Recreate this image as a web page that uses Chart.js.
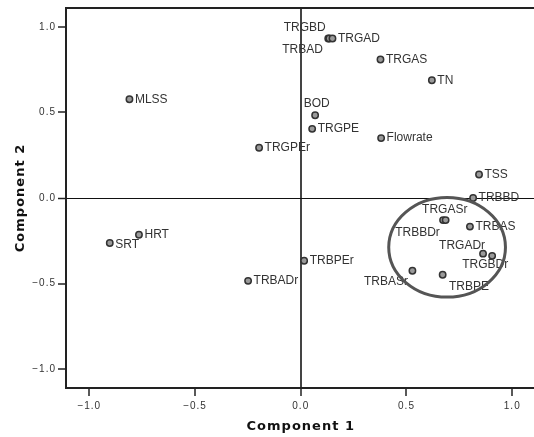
<!DOCTYPE html>
<html lang="en">
  <head>
    <meta charset="UTF-8" />
    <title>Component Plot</title>
    <script src="https://cdn.jsdelivr.net/npm/chart.js"></script>
    <style>
      body { margin: 0; background: #fff; overflow: hidden; }
      #wrap { width: 534px; height: 437px; overflow: hidden; }
    </style>
  </head>
  <body>
    <div id="wrap">
      <canvas id="myChart" width="560" height="437"></canvas>
    </div>
    <script>
      // variable names and loadings
      const names = ["MLSS", "TRGBD", "TRBAD", "TRGAD", "TRGAS", "TN", "BOD", "TRGPE", "TRGPEr", "Flowrate",
        "TSS", "TRBBD", "TRGASr", "TRBBDr", "TRBAS", "TRGADr", "TRGBDr", "TRBASr", "TRBPE", "TRBPEr",
        "TRBADr", "HRT", "SRT"];
      const comp1 = [-0.81, 0.13, 0.135, 0.15, 0.377, 0.62, 0.068, 0.054, -0.197, 0.38,
        0.843, 0.815, 0.673, 0.685, 0.8, 0.862, 0.905, 0.528, 0.671, 0.016,
        -0.249, -0.765, -0.903];
      const comp2 = [0.577, 0.932, 0.932, 0.932, 0.809, 0.688, 0.483, 0.404, 0.294, 0.35,
        0.137, 0.0, -0.129, -0.129, -0.167, -0.325, -0.338, -0.425, -0.448, -0.367,
        -0.484, -0.215, -0.263];
      const tickValues = [-1.0, -0.5, 0.0, 0.5, 1.0];

      // where a label sits relative to its point (default: to the right)
      const labelPlace = {
        TRGBD: [-2.5, -11, "right"],
        TRBAD: [-6.5, 11, "right"],
        BOD: [-11.5, -11.5, "left"],
        TRGASr: [1.7, -10.6, "center"],
        TRBBDr: [-5.8, 12.4, "right"],
        TRGADr: [-44, -8.3, "left"],
        TRGBDr: [-30, 9.3, "left"],
        TRBASr: [-4.4, 11, "right"],
        TRBPE: [6.3, 12.3, "left"],
        SRT: [5.5, 1.5, "left"],
      };

      // hand-drawn ring around the right-hand cluster (data units)
      const ring = { cx: 0.692, cy: -0.288, rx: 0.276, ry: 0.291 };

      const points = names.map((n, i) => ({ x: comp1[i], y: comp2[i] }));

      const spacing = {
        id: "spacing",
        beforeDraw(chart) {
          chart.ctx.letterSpacing = "1px";
        },
      };

      const extras = {
        id: "extras",
        beforeDatasetsDraw(chart) {
          const { ctx, chartArea } = chart;
          ctx.save();
          ctx.strokeStyle = "#222";
          ctx.lineWidth = 2;
          ctx.beginPath();
          ctx.moveTo(chartArea.left, chartArea.top);
          ctx.lineTo(chartArea.right, chartArea.top);
          ctx.stroke();
          ctx.restore();
        },
        afterDatasetsDraw(chart) {
          const { ctx } = chart;
          const xs = chart.scales.x;
          const ys = chart.scales.y;
          const meta = chart.getDatasetMeta(0);
          ctx.save();
          ctx.letterSpacing = "0px";
          ctx.font = "12px 'Liberation Sans', Arial, sans-serif";
          ctx.fillStyle = "#333";
          ctx.textBaseline = "middle";
          meta.data.forEach((pt, i) => {
            const p = labelPlace[names[i]] || [5.5, 0, "left"];
            ctx.textAlign = p[2];
            ctx.fillText(names[i], pt.x + p[0], pt.y + p[1]);
          });
          // ring
          const cx = xs.getPixelForValue(ring.cx);
          const cy = ys.getPixelForValue(ring.cy);
          const rx = xs.getPixelForValue(ring.cx + ring.rx) - cx;
          const ry = cy - ys.getPixelForValue(ring.cy + ring.ry);
          ctx.strokeStyle = "#555";
          ctx.lineWidth = 3;
          ctx.beginPath();
          ctx.ellipse(cx, cy, rx, ry, 0, 0, Math.PI * 2);
          ctx.stroke();
          ctx.restore();
        },
      };

      const fmt = (v) => Number(v).toFixed(1).replace("-", "\u2212");

      const config = {
        type: "scatter",
        data: {
          datasets: [
            {
              data: points,
              pointRadius: 3.2,
              pointHoverRadius: 3.2,
              pointBackgroundColor: "#9a9a9a",
              pointBorderColor: "#333",
              pointBorderWidth: 1.5,
            },
          ],
        },
        options: {
          responsive: false,
          animation: false,
          devicePixelRatio: 1,
          layout: { padding: { top: 3.5, right: 24.5, bottom: 0, left: 0 } },
          plugins: {
            legend: { display: false },
            tooltip: { enabled: false },
          },
          scales: {
            x: {
              type: "linear",
              min: -1.11,
              max: 1.11,
              afterBuildTicks: (s) => { s.ticks = tickValues.map((v) => ({ value: v })); },
              afterFit: (s) => { s.height = 49; },
              border: { display: true, color: "#222", width: 2 },
              grid: {
                color: (c) => (c.tick && c.tick.value === 0 ? "#444" : "transparent"),
                lineWidth: (c) => (c.tick && c.tick.value === 0 ? 2 : 0),
                tickColor: "#222",
                tickLength: 8,
                tickWidth: 1.5,
              },
              ticks: {
                callback: fmt,
                padding: 4,
                color: "#333",
                font: { family: "'Liberation Sans', Arial, sans-serif", size: 10 },
                maxRotation: 0,
              },
              title: {
                display: true,
                text: "Component 1",
                color: "#111",
                font: { family: "'DejaVu Sans', sans-serif", size: 13, weight: "bold" },
                padding: { top: 0, bottom: 3 },
              },
            },
            y: {
              type: "linear",
              min: -1.11,
              max: 1.11,
              afterBuildTicks: (s) => { s.ticks = tickValues.map((v) => ({ value: v })); },
              afterFit: (s) => { s.width = 66; },
              border: { display: true, color: "#222", width: 2 },
              grid: {
                color: (c) => (c.tick && c.tick.value === 0 ? "#111" : "transparent"),
                lineWidth: (c) => (c.tick && c.tick.value === 0 ? 1 : 0),
                tickColor: "#222",
                tickLength: 8,
                tickWidth: 1.5,
              },
              ticks: {
                callback: fmt,
                padding: 2,
                color: "#333",
                font: { family: "'Liberation Sans', Arial, sans-serif", size: 10 },
              },
              title: {
                display: true,
                text: "Component 2",
                color: "#111",
                font: { family: "'DejaVu Sans', sans-serif", size: 13, weight: "bold" },
                padding: { top: 12.5, bottom: 0 },
              },
            },
          },
        },
        plugins: [spacing, extras],
      };

      const myChart = new Chart(document.getElementById("myChart"), config);
    </script>
  </body>
</html>
